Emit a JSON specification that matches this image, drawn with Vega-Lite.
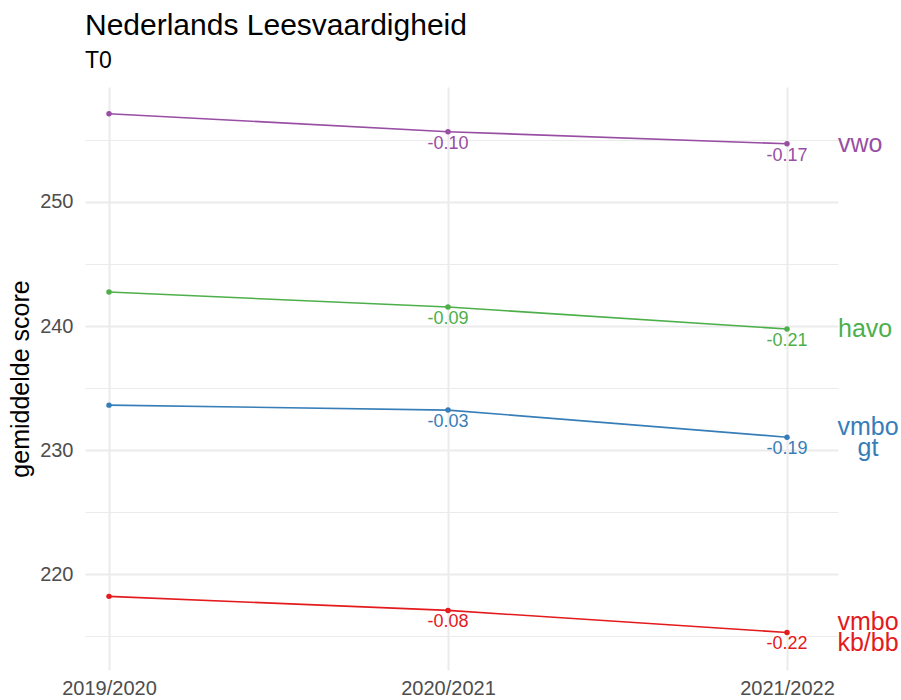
{
  "$schema": "https://vega.github.io/schema/vega-lite/v6.json",
  "autosize": {"type": "none"},
  "width": 753,
  "height": 583,
  "padding": {"left": 85, "top": 87, "right": 63, "bottom": 30},
  "background": "white",
  "config": {
    "font": "Liberation Sans",
    "view": {"stroke": null},
    "axis": {"gridColor": "#EBEBEB", "domain": false, "ticks": false, "labelColor": "#4D4D4D", "labelFont": "Liberation Sans", "titleFont": "Liberation Sans"}
  },
  "title": {
    "text": "Nederlands Leesvaardigheid",
    "subtitle": "T0",
    "anchor": "start",
    "frame": "group",
    "fontSize": 30,
    "fontWeight": "normal",
    "color": "black",
    "subtitleFontSize": 23,
    "subtitleColor": "black",
    "subtitlePadding": 9,
    "offset": 14
  },
  "data": {
    "values": [
      {"year": 2019, "level": "vwo", "score": 257.10, "change": "", "label": ""},
      {"year": 2020, "level": "vwo", "score": 255.65, "change": "-0.10", "label": ""},
      {"year": 2021, "level": "vwo", "score": 254.68, "change": "-0.17", "label": "vwo"},
      {"year": 2019, "level": "havo", "score": 242.74, "change": "", "label": ""},
      {"year": 2020, "level": "havo", "score": 241.53, "change": "-0.09", "label": ""},
      {"year": 2021, "level": "havo", "score": 239.76, "change": "-0.21", "label": "havo"},
      {"year": 2019, "level": "vmbo gt", "score": 233.63, "change": "", "label": ""},
      {"year": 2020, "level": "vmbo gt", "score": 233.23, "change": "-0.03", "label": ""},
      {"year": 2021, "level": "vmbo gt", "score": 231.05, "change": "-0.19", "label": "vmbo\ngt"},
      {"year": 2019, "level": "vmbo kb/bb", "score": 218.23, "change": "", "label": ""},
      {"year": 2020, "level": "vmbo kb/bb", "score": 217.10, "change": "-0.08", "label": ""},
      {"year": 2021, "level": "vmbo kb/bb", "score": 215.32, "change": "-0.22", "label": "vmbo\nkb/bb"}
    ]
  },
  "encoding": {
    "x": {
      "field": "year", "type": "quantitative",
      "scale": {"domain": [2018.9292, 2021.1504], "nice": false, "zero": false},
      "axis": {"title": null, "values": [2019, 2020, 2021], "labelExpr": "datum.value + '/' + (datum.value + 1)", "labelAngle": 0, "labelFontSize": 20, "labelPadding": 8, "gridWidth": 2, "grid": true, "labelFlush": false}
    },
    "y": {
      "field": "score", "type": "quantitative",
      "scale": {"domain": [212.3, 259.25], "nice": false, "zero": false},
      "axis": {
        "title": "gemiddelde score",
        "titleFontSize": 25,
        "titleFontWeight": "normal",
        "titleColor": "black",
        "titlePadding": 6,
        "values": [215, 220, 225, 230, 235, 240, 245, 250, 255],
        "labelExpr": "datum.value % 10 === 0 ? datum.label : ''",
        "labelFontSize": 20,
        "labelPadding": 12,
        "gridWidth": {"condition": {"test": "datum.value % 10 === 0", "value": 2}, "value": 1}
      }
    },
    "color": {
      "field": "level", "type": "nominal",
      "scale": {"domain": ["vmbo kb/bb", "vmbo gt", "havo", "vwo"], "range": ["#E41A1C", "#377EB8", "#4DAF4A", "#984EA3"]},
      "legend": null
    }
  },
  "layer": [
    {"mark": {"type": "line", "strokeWidth": 1.6}},
    {"mark": {"type": "point", "filled": true, "opacity": 1, "size": 30}},
    {"mark": {"type": "text", "fontSize": 18, "baseline": "middle", "align": "center", "dy": 12}, "encoding": {"text": {"field": "change"}}},
    {
      "transform": [{"filter": "datum.label !== '' && indexof(datum.label, '\\n') < 0"}],
      "mark": {"type": "text", "fontSize": 25, "baseline": "middle", "align": "left", "dx": 51},
      "encoding": {"text": {"field": "label"}}
    },
    {
      "transform": [{"filter": "indexof(datum.label, '\\n') >= 0"}],
      "mark": {"type": "text", "fontSize": 25, "baseline": "middle", "align": "center", "dx": 81, "dy": -10, "lineBreak": "\n", "lineHeight": 21},
      "encoding": {"text": {"field": "label"}}
    }
  ]
}
